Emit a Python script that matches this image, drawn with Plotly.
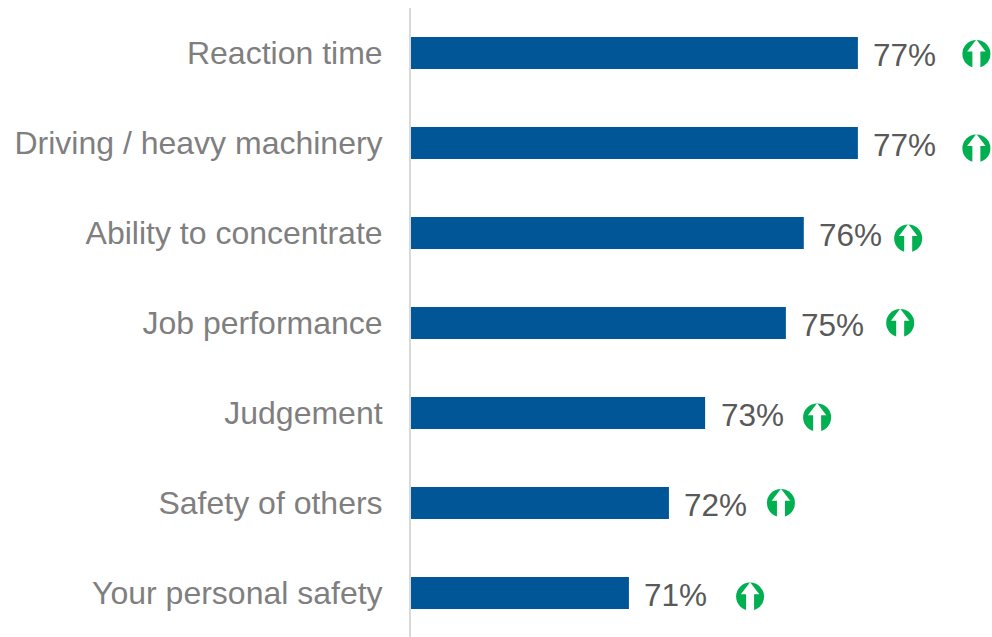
import plotly.graph_objects as go

categories = ["Reaction time", "Driving / heavy machinery", "Ability to concentrate",
              "Job performance", "Judgement", "Safety of others", "Your personal safety"]
values = [76.99, 76.99, 75.57, 75.1, 72.98, 72.03, 70.98]
labels = ["77%", "77%", "76%", "75%", "73%", "72%", "71%"]
label_offset_y = [0.02, 0.02, 0.02, 0.02, 0.02, 0.02, 0.02]
icon_x = [80.1, 80.1, 78.31, 78.1, 75.92, 74.97, 74.16]
icon_y = [0.01, 1.06, 2.06, 3.0, 4.05, 5.0, 6.04]
positions = list(range(len(categories)))

BLUE = "#005696"
GREEN = "#00b050"

fig = go.Figure()
fig.add_trace(go.Bar(x=values, y=positions, orientation="h", marker=dict(color=BLUE, line_width=0),
                     width=0.356, showlegend=False, hoverinfo="skip"))
fig.add_trace(go.Scatter(x=icon_x, y=icon_y, mode="markers", showlegend=False, hoverinfo="skip",
                         marker=dict(symbol="circle", size=28, color=GREEN, line_width=0)))
fig.add_trace(go.Scatter(x=icon_x, y=[v + 0.06 for v in icon_y], mode="markers", showlegend=False, hoverinfo="skip",
                         marker=dict(symbol="line-ns", size=20, line=dict(color="white", width=8))))
fig.add_trace(go.Scatter(x=icon_x, y=[v - 0.07 for v in icon_y], mode="markers", showlegend=False, hoverinfo="skip",
                         marker=dict(symbol="triangle-up", size=16, color="white", line_width=0)))

for v, p, t, o in zip(values, positions, labels, label_offset_y):
    fig.add_annotation(x=v, y=p + o, text=t, showarrow=False, xanchor="left", xshift=13.5,
                       font=dict(family="Liberation Sans, Arial, sans-serif", size=31.5, color="#595959"))

fig.update_layout(
    width=992, height=637, margin=dict(l=411, r=0, t=8, b=0, pad=0),
    paper_bgcolor="white", plot_bgcolor="white", showlegend=False,
    font=dict(family="Liberation Sans, Arial, sans-serif"),
    xaxis=dict(range=[65.26, 80.51], visible=False, fixedrange=True),
    yaxis=dict(range=[6.489, -0.5], tickmode="array", tickvals=positions, ticktext=categories,
               showgrid=False, zeroline=False, showline=True, linecolor="#d9d9d9", linewidth=2,
               ticks="", ticklabelstandoff=20,
               tickfont=dict(size=32, color="#7f7f7f", family="Liberation Sans, Arial, sans-serif")),
)
fig.write_html("out.html", config={"displayModeBar": False},
               post_script="document.body.style.margin='0';document.body.style.overflow='hidden';")
